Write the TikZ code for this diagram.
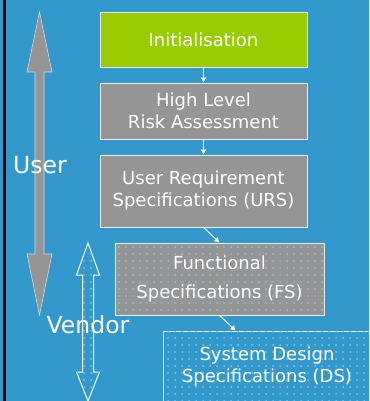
\documentclass[tikz,border=0pt]{standalone}
\usepackage{fontspec}
\setmainfont{DejaVu Sans}
\usetikzlibrary{arrows.meta,patterns.meta,calc,positioning}
\usepackage{xcolor}
\definecolor{bgblue}{HTML}{3399CC}
\definecolor{initgreen}{HTML}{99CC00}
\definecolor{boxgray}{HTML}{959595}
\definecolor{dotblue}{HTML}{80C4DC}
\colorlet{boxedge}{white!85!gray}
\newcommand{\boxfont}{\fontsize{18}{22}\selectfont}
\newcommand{\sidefont}{\fontsize{23.5}{28}\selectfont}
\tikzset{
    boxsty/.style={draw=boxedge,line width=0.8pt,rectangle,inner sep=0pt,minimum width=207pt,text=white,align=center,font=\boxfont},
    greensty/.style={boxsty,fill=initgreen,minimum height=55pt},
    graysty/.style={boxsty,fill=boxgray},
    dotsty/.style={postaction={pattern={Dots[distance=7pt,radius=1pt]},pattern color=dotblue}},
    flowsty/.style={draw=white,line width=0.9pt,-{Latex[length=5pt,width=6pt]}},
    userarrsty/.style={fill=boxgray,draw=white!70!gray,line width=0.6pt},
    vendarrsty/.style={draw=white,line width=1pt,dotsty},
    sidesty/.style={text=white,font=\sidefont,anchor=base},
}

\begin{document}
\begin{tikzpicture}[x=1pt,y=-1pt]

\useasboundingbox (0,0) rectangle (369,401);
\clip (0,0) rectangle (369,401);
\fill [bgblue] (0,0) rectangle (369,401);
\fill [black] (3,0) rectangle (5.5,401);

% side arrows
\draw [userarrsty] (39.5,12) -- (52,72) -- (44,72) -- (44,254) -- (52,254) -- (39.5,315)
    -- (27,254) -- (35,254) -- (35,72) -- (27,72) -- cycle;
\draw [vendarrsty] (88,243) -- (99.5,275) -- (93.5,275) -- (93.5,372) -- (99.5,372) -- (88,401)
    -- (76.5,372) -- (82.5,372) -- (82.5,275) -- (76.5,275) -- cycle;
\node (userl) [sidesty] at (40,173) {User};
\node (vendl) [sidesty] at (88,333) {Vendor};

% boxes
\node (init) [greensty] at (203.5,39.5) {Initialisation};
\node (hlra) [graysty,minimum height=56pt] at (203.5,111) {High Level\\Risk Assessment};
\node (urs) [graysty,minimum height=72pt] at (203.5,191) {User Requirement\\Specifications (URS)};
\node (fs) [graysty,dotsty,minimum height=72pt,minimum width=209pt,
    font=\fontsize{18}{29}\selectfont] at (219.5,279) {Functional\\Specifications (FS)};
\node (ds) [boxsty,dotsty,minimum height=72pt,minimum width=208pt] at (267,367) {System Design\\Specifications (DS)};

\draw [flowsty] (init.south) -- (hlra.north);
\draw [flowsty] (hlra.south) -- (urs.north);
\draw [flowsty] (urs.south) -- (fs.north);
\draw [flowsty] (fs.south) -- ($(ds.north west)!0.7!(ds.north)$);

\end{tikzpicture}
\end{document}
